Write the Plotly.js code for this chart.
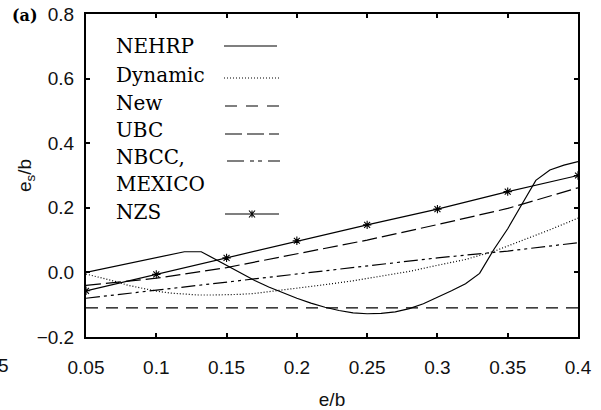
<!DOCTYPE html>
<html>
<head>
<meta charset="utf-8">
<script src="https://cdn.plot.ly/plotly-3.0.1.min.js"></script>
<style>
  html, body { margin: 0; padding: 0; background: #fff; }
  #chart { width: 601px; height: 410px; }
</style>
</head>
<body>
<div id="chart"></div>
<script>
// ---------- data ----------
const seriesNames = ['NEHRP', 'Dynamic', 'New', 'UBC', 'NBCC, MEXICO', 'NZS'];

const nehrpX = [0.05, 0.10, 0.12, 0.132, 0.14, 0.15, 0.16, 0.17, 0.18, 0.19, 0.20, 0.21, 0.22, 0.23, 0.24, 0.25, 0.26, 0.27, 0.28, 0.29, 0.30, 0.31, 0.32, 0.33, 0.34, 0.35, 0.36, 0.37, 0.38, 0.39, 0.40];
const nehrpY = [0.000, 0.045, 0.064, 0.064, 0.045, 0.022, -0.003, -0.025, -0.045, -0.063, -0.080, -0.095, -0.108, -0.118, -0.125, -0.128, -0.127, -0.122, -0.112, -0.097, -0.078, -0.057, -0.035, -0.003, 0.070, 0.135, 0.210, 0.285, 0.317, 0.332, 0.343];

const dynX = [0.05, 0.06, 0.07, 0.08, 0.09, 0.10, 0.11, 0.12, 0.13, 0.14, 0.15, 0.16, 0.17, 0.18, 0.19, 0.20, 0.22, 0.24, 0.26, 0.28, 0.30, 0.32, 0.34, 0.36, 0.38, 0.40];
const dynY = [-0.005, -0.015, -0.027, -0.040, -0.050, -0.058, -0.064, -0.068, -0.070, -0.070, -0.070, -0.068, -0.065, -0.060, -0.055, -0.050, -0.038, -0.026, -0.011, 0.003, 0.022, 0.040, 0.065, 0.098, 0.132, 0.168];

const newX = [0.05, 0.40];
const newY = [-0.11, -0.11];

const codeX = [0.05, 0.10, 0.15, 0.20, 0.25, 0.30, 0.35, 0.40];
const ubcY  = [-0.040, -0.018, 0.015, 0.058, 0.100, 0.148, 0.198, 0.262];
const nbccY = [-0.080, -0.055, -0.030, -0.005, 0.022, 0.045, 0.066, 0.092];
const nzsY  = [-0.057, -0.006, 0.045, 0.098, 0.147, 0.196, 0.250, 0.300];

const xTickVals = [0.05, 0.10, 0.15, 0.20, 0.25, 0.30, 0.35, 0.40];
const xTickText = ['0.05', '0.1', '0.15', '0.2', '0.25', '0.3', '0.35', '0.4'];
const yTickVals = [-0.2, 0.0, 0.2, 0.4, 0.6, 0.8];
const yTickText = ['\u22120.2', '0.0', '0.2', '0.4', '0.6', '0.8'];

const legendLabels = ['NEHRP', 'Dynamic', 'New', 'UBC', 'NBCC,', 'MEXICO', 'NZS'];

// ---------- styles ----------
const W = 601, H = 410;
const M = { l: 86, r: 23, t: 14, b: 73 };
const PW = W - M.l - M.r, PH = H - M.t - M.b;
const px2x = p => (p - M.l) / PW;
const px2y = p => (H - M.b - p) / PH;

const LW = 1.2;
const ink = '#000';
const dashes = {
  solid: 'solid',
  dot: '1px,2px',
  dash: '12px,8px',
  longdash: '15px,5px',
  longdashdot: '14px,4px,3px,4px,3px,4px'
};

const traces = [
  { x: nehrpX, y: nehrpY, mode: 'lines', name: seriesNames[0], line: { color: ink, width: LW, dash: dashes.solid } },
  { x: dynX, y: dynY, mode: 'lines', name: seriesNames[1], line: { color: ink, width: LW, dash: dashes.dot } },
  { x: newX, y: newY, mode: 'lines', name: seriesNames[2], line: { color: ink, width: LW, dash: dashes.dash } },
  { x: codeX, y: ubcY, mode: 'lines', name: seriesNames[3], line: { color: ink, width: LW, dash: dashes.longdash } },
  { x: codeX, y: nbccY, mode: 'lines', name: seriesNames[4], line: { color: ink, width: LW, dash: dashes.longdashdot } },
  { x: codeX, y: nzsY, mode: 'lines+markers', name: seriesNames[5], line: { color: ink, width: LW, dash: dashes.solid },
    marker: { symbol: 'asterisk-open', size: 7, color: ink, line: { color: ink, width: 1.1 } } }
];

// ---------- custom legend (text left, line sample right) ----------
const legendRows = [
  { textY: 46,  lineY: 46,  dash: 'solid', x0: 224, x1: 277 },
  { textY: 75,  lineY: 78,  dash: 'dot',   x0: 224, x1: 280 },
  { textY: 103, lineY: 106, dash: 'dash',  x0: 225, x1: 279 },
  { textY: 130, lineY: 134, dash: 'longdash', x0: 225, x1: 279 },
  { textY: 157, lineY: 161, dash: 'longdashdot', x0: 227, x1: 280 },
  { textY: 184, lineY: null },
  { textY: 212, lineY: 214, dash: 'solid', x0: 225, x1: 279, marker: 252 }
];
const legDash = { solid: 'solid', dot: '1px,2px', dash: '12px,9px', longdash: '17px,5px', longdashdot: '17px,6px,4px,4px,4px,6px' };

const serif = 'DejaVu Serif';
const sans = 'Liberation Sans';
const legendFont = { family: serif, size: 20, color: ink };
const tickFont = { family: sans, size: 19, color: '#111' };

const annotations = legendRows.map((r, i) => ({
  xref: 'paper', yref: 'paper', x: px2x(114), y: px2y(r.textY),
  xanchor: 'left', yanchor: 'middle', showarrow: false, text: legendLabels[i], font: legendFont
}));
annotations.push({
  xref: 'paper', yref: 'paper', x: px2x(10), y: px2y(16), xanchor: 'left', yanchor: 'middle',
  showarrow: false, text: '<b>(a)</b>', font: { family: serif, size: 16, color: ink }
});
annotations.push({
  xref: 'paper', yref: 'paper', x: px2x(-4), y: px2y(365), xanchor: 'left', yanchor: 'middle',
  showarrow: false, text: '5', font: tickFont
});

const shapes = [];
legendRows.forEach(r => {
  if (r.lineY === null) return;
  shapes.push({ type: 'line', xref: 'paper', yref: 'paper',
    x0: px2x(r.x0), x1: px2x(r.x1), y0: px2y(r.lineY), y1: px2y(r.lineY),
    line: { color: ink, width: LW, dash: legDash[r.dash] } });
  if (r.marker) {
    const cx = r.marker, cy = r.lineY, a = 3, b = 3.5;
    const P = (x, y) => px2x(x) + ',' + px2y(y);
    shapes.push({ type: 'path', xref: 'paper', yref: 'paper',
      path: 'M' + P(cx - a, cy - b) + 'L' + P(cx + a, cy + b) + 'M' + P(cx - a, cy + b) + 'L' + P(cx + a, cy - b) + 'M' + P(cx, cy - b) + 'L' + P(cx, cy + b),
      line: { color: ink, width: 1.1 } });
  }
});

const layout = {
  width: W, height: H,
  margin: M,
  paper_bgcolor: '#fff', plot_bgcolor: '#fff',
  showlegend: false,
  font: tickFont,
  xaxis: {
    range: [0.05, 0.4], tickvals: xTickVals, ticktext: xTickText,
    showgrid: false, zeroline: false,
    showline: true, linecolor: ink, linewidth: 2, mirror: 'ticks',
    ticks: 'inside', ticklen: 4, tickwidth: 2, tickcolor: ink,
    tickfont: tickFont, ticklabelstandoff: 12,
    title: { text: 'e/b', font: tickFont, standoff: 16 }
  },
  yaxis: {
    range: [-0.2, 0.8], tickvals: yTickVals, ticktext: yTickText,
    showgrid: false, zeroline: false,
    showline: true, linecolor: ink, linewidth: 2, mirror: 'ticks',
    ticks: 'inside', ticklen: 4, tickwidth: 2, tickcolor: ink,
    tickfont: tickFont, ticklabelstandoff: 6,
    title: { text: 'e<sub>s</sub>/b', font: tickFont, standoff: 0 }
  },
  annotations: annotations,
  shapes: shapes
};

Plotly.newPlot('chart', traces, layout, { staticPlot: true, displayModeBar: false });
</script>
</body>
</html>
